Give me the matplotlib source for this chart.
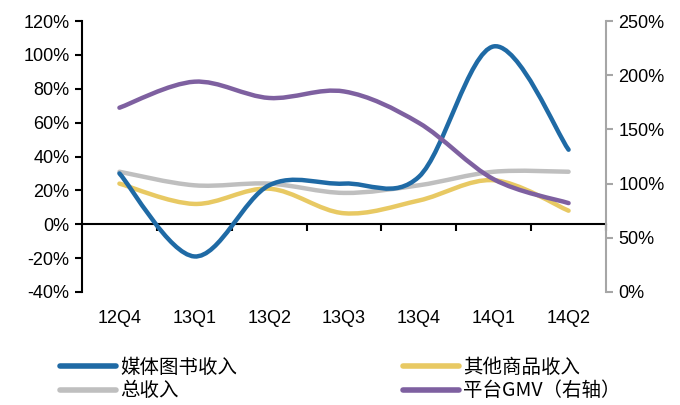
import matplotlib
matplotlib.use("Agg")
import matplotlib.pyplot as plt
from matplotlib.path import Path
from matplotlib.patches import PathPatch
from matplotlib.lines import Line2D
import matplotlib.transforms as mtransforms
import numpy as np

plt.rcParams['font.family'] = ['Liberation Sans', 'DejaVu Sans']

quarters = ['12Q4', '13Q1', '13Q2', '13Q3', '13Q4', '14Q1', '14Q2']
media_books = [30, -19, 23, 24, 28, 105, 44]      # 媒体图书收入, %
other_goods = [24, 12, 21, 6.5, 14, 26, 8]        # 其他商品收入, %
total_rev = [31, 23, 24, 18.5, 23, 31, 31]        # 总收入, %
platform_gmv = [170, 194, 179, 185, 156, 104, 82]  # 平台GMV (right axis), %

labels = ['媒体图书收入', '其他商品收入', '总收入', '平台GMV（右轴）']
colors = ['#1f6aa5', '#e8c963', '#bfbfbf', '#7e60a0']


def smooth_path(xs, ys):
    # cubic bezier through the points, excel-style smoothed line
    pts = np.column_stack([xs, ys]).astype(float)
    n = len(pts)
    verts = [pts[0]]
    codes = [Path.MOVETO]
    for i in range(n - 1):
        p0 = pts[i - 1] if i > 0 else pts[i]
        p1 = pts[i]
        p2 = pts[i + 1]
        p3 = pts[i + 2] if i + 2 < n else pts[i + 1]
        c1 = p1 + (p2 - p0) / 6.0
        c2 = p2 - (p3 - p1) / 6.0
        verts += [c1, c2, p2]
        codes += [Path.CURVE4] * 3
    return Path(verts, codes)


fig = plt.figure(figsize=(6.8, 4.05), dpi=100)
ax = fig.add_axes([82 / 680, 1 - 292 / 405, (606 - 82) / 680, 271 / 405])
ax2 = ax.twinx()

x = np.arange(len(quarters))
for ys, c in zip([total_rev, other_goods, media_books], [colors[2], colors[1], colors[0]]):
    ax.add_patch(PathPatch(smooth_path(x, ys), facecolor='none', edgecolor=c,
                           lw=3.2, capstyle='round', zorder=3))
ax2.add_patch(PathPatch(smooth_path(x, platform_gmv), facecolor='none',
                        edgecolor=colors[3], lw=3.2, capstyle='round', zorder=3))

ax.set_xlim(-0.5, len(quarters) - 0.5)
ax.set_ylim(-40, 120)
ax.set_yticks(np.arange(-40, 121, 20))
ax.set_yticklabels([f'{v}%' for v in range(-40, 121, 20)])
ax2.set_ylim(0, 250)
ax2.set_yticks(np.arange(0, 251, 50))
ax2.set_yticklabels([f'{v}%' for v in range(0, 251, 50)])

for a in (ax, ax2):
    a.spines['top'].set_visible(False)
    a.patch.set_visible(False)
ax.spines['right'].set_visible(False)
ax2.spines['left'].set_visible(False)
ax2.spines['bottom'].set_visible(False)
ax2.spines['right'].set_color('#a6a6a6')
ax2.spines['right'].set_linewidth(1.5)
ax.spines['left'].set_linewidth(1.5)
ax.spines['bottom'].set_position(('data', 0))
ax.spines['bottom'].set_linewidth(1.5)

ax.tick_params(axis='y', direction='out', length=5, width=1.5, labelsize=13, pad=4)
ax2.tick_params(axis='y', direction='out', length=5, width=1.5, colors='#a6a6a6',
                labelcolor='black', labelsize=13, pad=4)
ax.set_xticks(np.arange(0.5, len(quarters), 1))
ax.set_xticklabels([])
ax.tick_params(axis='x', direction='out', length=5, width=1.5)

trans = mtransforms.blended_transform_factory(ax.transData, ax.transAxes)
for xi, q in zip(x, quarters):
    ax.text(xi, -0.096, q, transform=trans, ha='center', va='center', fontsize=13)

handles = [Line2D([], [], color=c, lw=4, solid_capstyle='round') for c in colors]
order = [0, 2, 1, 3]
fig.legend([handles[i] for i in order], [labels[i] for i in order], ncol=2,
           loc='upper left', bbox_to_anchor=(60 / 680, 1 - 357 / 405),
           frameon=False, handlelength=2.9, handletextpad=0.2, columnspacing=8.5,
           labelspacing=0.12, borderpad=0, borderaxespad=0,
           prop={'family': ['Noto Sans CJK SC', 'DejaVu Sans'], 'size': 14})

fig.savefig('out.png', dpi=100)
